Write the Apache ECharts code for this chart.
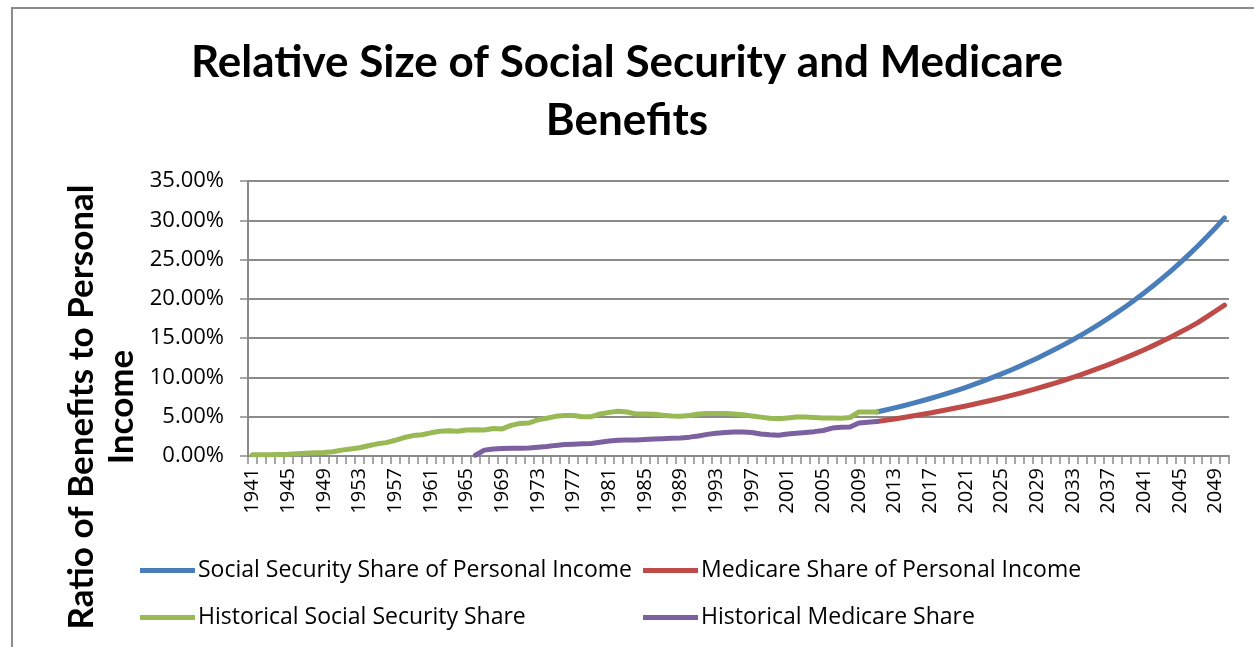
<!DOCTYPE html>
<html>
<head>
<meta charset="utf-8">
<script src="https://cdn.jsdelivr.net/npm/echarts@6/dist/echarts.min.js"></script>
<style>
  html, body { margin: 0; padding: 0; background: #fff; }
  #main { width: 1254px; height: 647px; }
</style>
</head>
<body>
<div id="main"></div>
<script>
// years on the category axis
var firstYear = 1941, lastYear = 2050;
var years = [];
for (var y = firstYear; y <= lastYear; y++) years.push(String(y));

// historical social security share, 1941-2011 (%)
var histSS = [
  0.15, 0.15, 0.17, 0.20, 0.22, 0.28, 0.35, 0.40, 0.45, 0.55,
  0.75, 0.90, 1.05, 1.30, 1.55, 1.70, 2.00, 2.35, 2.60, 2.70,
  2.95, 3.15, 3.20, 3.15, 3.30, 3.35, 3.30, 3.50, 3.45, 3.90,
  4.15, 4.20, 4.60, 4.80, 5.05, 5.15, 5.15, 5.00, 5.00, 5.35,
  5.55, 5.70, 5.60, 5.35, 5.35, 5.30, 5.20, 5.10, 5.05, 5.15,
  5.35, 5.40, 5.40, 5.40, 5.35, 5.25, 5.10, 4.95, 4.80, 4.75,
  4.85, 4.95, 4.95, 4.90, 4.85, 4.85, 4.80, 4.90, 5.60, 5.60,
  5.60
];
// historical medicare share, 1966-2011 (%)
var histMed = [
  0.10, 0.75, 0.90, 0.95, 0.98, 1.00, 1.02, 1.10, 1.20, 1.35,
  1.45, 1.50, 1.55, 1.60, 1.75, 1.90, 2.00, 2.05, 2.05, 2.10,
  2.15, 2.20, 2.25, 2.30, 2.40, 2.55, 2.75, 2.90, 3.00, 3.05,
  3.05, 3.00, 2.80, 2.70, 2.65, 2.80, 2.90, 3.00, 3.10, 3.25,
  3.55, 3.65, 3.70, 4.20, 4.30, 4.40
];
// projected social security share, 2011-2050 (%)
var projSS = [
  5.60, 5.85, 6.12, 6.40, 6.70, 7.00, 7.32, 7.65, 8.00, 8.36,
  8.74, 9.14, 9.56, 10.00, 10.45, 10.92, 11.41, 11.92, 12.45, 13.00,
  13.58, 14.18, 14.80, 15.45, 16.12, 16.82, 17.55, 18.31, 19.10, 19.92,
  20.78, 21.67, 22.60, 23.57, 24.58, 25.63, 26.72, 27.86, 29.05, 30.30
];
// projected medicare share, 2011-2050 (%)
var projMed = [
  4.40, 4.55, 4.72, 4.90, 5.09, 5.28, 5.48, 5.69, 5.91, 6.14,
  6.37, 6.61, 6.87, 7.13, 7.40, 7.69, 7.98, 8.29, 8.61, 8.94,
  9.28, 9.64, 10.01, 10.39, 10.79, 11.21, 11.64, 12.09, 12.55, 13.03,
  13.53, 14.05, 14.59, 15.15, 15.74, 16.34, 16.97, 17.70, 18.45, 19.20
];

// put a partial series onto the full year axis
function onAxis(startYear, vals) {
  return years.map(function (yr) {
    var i = Number(yr) - startYear;
    return (i >= 0 && i < vals.length) ? vals[i] : null;
  });
}

var chart = echarts.init(document.getElementById('main'));
var font = '"Open Sans", sans-serif';
var gridColor = '#8a8a8a';

function lineSeries(name, color, data) {
  return {
    name: name,
    type: 'line',
    data: data,
    showSymbol: false,
    symbol: 'none',
    connectNulls: false,
    lineStyle: { width: 5, color: color, cap: 'round', join: 'round' },
    itemStyle: { color: color },
    animation: false
  };
}

function legendAt(name, left, top) {
  return {
    data: [name],
    left: left,
    top: top,
    padding: 0,
    icon: 'rect',
    itemWidth: 55,
    itemHeight: 5,
    itemGap: 4,
    textStyle: { fontFamily: font, fontSize: 23, color: '#000', padding: [0, 0, 0, -2] },
    selectedMode: false
  };
}

chart.setOption({
  backgroundColor: '#fff',
  animation: false,
  title: {
    text: 'Relative Size of Social Security and Medicare\nBenefits',
    left: 'center',
    top: 29,
    textStyle: { fontFamily: 'Lato, sans-serif', fontWeight: 'bold', fontSize: 44, lineHeight: 58, color: '#000' }
  },
  graphic: [
    {
      type: 'rect',
      shape: { x: 12, y: 8, width: 1300, height: 700 },
      style: { fill: 'none', stroke: '#8a8a8a', lineWidth: 2 },
      silent: true
    },
    {
      type: 'text',
      x: 102,
      y: 407,
      rotation: Math.PI / 2,
      style: {
        text: 'Ratio of Benefits to Personal\nIncome',
        fontFamily: 'Lato, sans-serif',
        fontWeight: 'bold',
        fontSize: 35,
        lineHeight: 40,
        align: 'center',
        verticalAlign: 'middle',
        fill: '#000'
      }
    }
  ],
  legend: [
    legendAt('Social Security Share of Personal Income', 140, 559),
    legendAt('Medicare Share of Personal Income', 643, 559),
    legendAt('Historical Social Security Share', 140, 606),
    legendAt('Historical Medicare Share', 643, 606)
  ],
  grid: { left: 248, right: 25, top: 181, bottom: 191, containLabel: false },
  xAxis: {
    type: 'category',
    data: years,
    boundaryGap: true,
    axisLine: { lineStyle: { color: gridColor, width: 2 } },
    axisTick: { show: true, interval: 0, length: 8, lineStyle: { color: gridColor, width: 1.5 } },
    axisLabel: { interval: 3, rotate: 90, margin: 12, fontFamily: font, fontSize: 20, color: '#000' },
    splitLine: { show: false }
  },
  yAxis: {
    type: 'value',
    min: 0,
    max: 35,
    interval: 5,
    axisLine: { show: true, lineStyle: { color: gridColor, width: 2 } },
    axisTick: { show: true, length: 8, lineStyle: { color: gridColor, width: 1.5 } },
    axisLabel: {
      margin: 24,
      fontFamily: font,
      fontSize: 22,
      color: '#000',
      formatter: function (v) { return v.toFixed(2) + '%'; }
    },
    splitLine: { lineStyle: { color: gridColor, width: 2 } }
  },
  series: [
    lineSeries('Social Security Share of Personal Income', '#4a7ebb', onAxis(2011, projSS)),
    lineSeries('Medicare Share of Personal Income', '#be4b48', onAxis(2011, projMed)),
    lineSeries('Historical Social Security Share', '#98b954', onAxis(1941, histSS)),
    lineSeries('Historical Medicare Share', '#7d60a0', onAxis(1966, histMed))
  ]
});
</script>
</body>
</html>
